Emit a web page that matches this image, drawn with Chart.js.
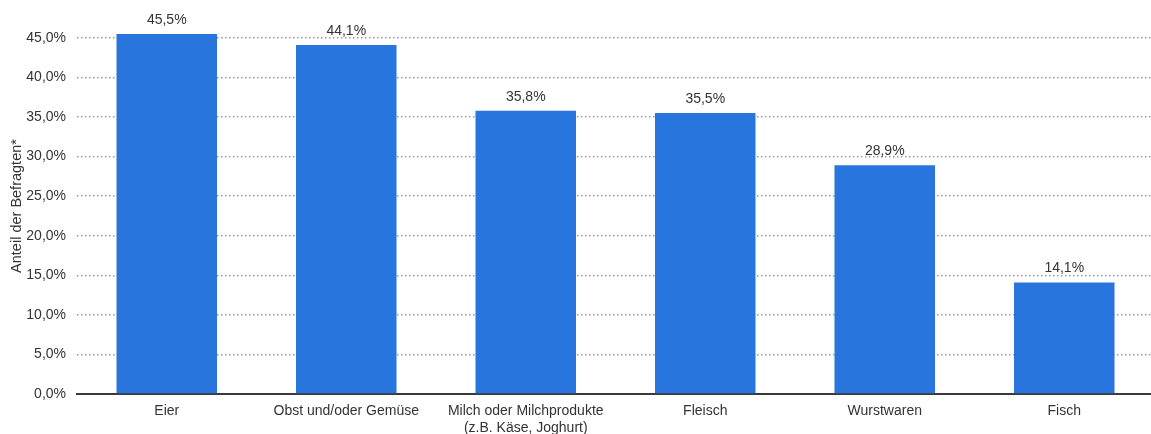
<!DOCTYPE html>
<html>
<head>
<meta charset="utf-8">
<script src="https://cdn.jsdelivr.net/npm/chart.js@4/dist/chart.umd.min.js"></script>
<style>
  html, body { margin: 0; padding: 0; background: #fff; overflow: hidden; }
  #wrap { width: 1156px; height: 434px; }
</style>
</head>
<body>
<div id="wrap"><canvas id="chart" width="1156" height="434"></canvas></div>
<script>
const categories = [
    'Eier',
    'Obst und/oder Gemüse',
    ['Milch oder Milchprodukte', '(z.B. Käse, Joghurt)'],
    'Fleisch',
    'Wurstwaren',
    'Fisch'
];
const shares = [45.5, 44.1, 35.8, 35.5, 28.9, 14.1];
const yTicks = [0, 5, 10, 15, 20, 25, 30, 35, 40, 45];
const yTitle = 'Anteil der Befragten*';

const FONT = '"Liberation Sans", Arial, Helvetica, sans-serif';
const fmt = v => v.toFixed(1).replace('.', ',') + '%';

// value above each bar
const valueLabels = {
    id: 'valueLabels',
    afterDatasetsDraw(chart){
        const ctx = chart.ctx;
        const meta = chart.getDatasetMeta(0);
        ctx.save();
        ctx.font = '14px ' + FONT;
        ctx.fillStyle = '#333';
        ctx.textAlign = 'center';
        ctx.textBaseline = 'bottom';
        meta.data.forEach((bar, i)=>{
            ctx.fillText(fmt(shares[i]), bar.x, bar.y - 7);
        });
        ctx.restore();
    }
};

// rotated axis title
const axisTitle = {
    id: 'axisTitle',
    afterDraw(chart){
        const ctx = chart.ctx;
        const a = chart.chartArea;
        ctx.save();
        ctx.translate(17, (a.top + a.bottom)/2 - 6);
        ctx.rotate(-Math.PI/2);
        ctx.font = '14.5px ' + FONT;
        ctx.fillStyle = '#333';
        ctx.textAlign = 'center';
        ctx.textBaseline = 'middle';
        ctx.fillText(yTitle, 0, 0);
        ctx.restore();
    }
};

new Chart(document.getElementById('chart').getContext('2d'), {
    type: 'bar',
    data: {
        labels: categories,
        datasets: [{
            data: shares,
            backgroundColor: '#2876dd',
            borderWidth: 0,
            barPercentage: 0.56,
            categoryPercentage: 1
        }]
    },
    options: {
        responsive: false,
        animation: false,
        layout: { padding: { top: 30, right: 2, left: 0, bottom: 0 } },
        plugins: { legend: { display: false }, tooltip: { enabled: false } },
        scales: {
            x: {
                grid: { display: false, drawTicks: false },
                border: { display: true, color: '#3a3a3a', width: 2 },
                ticks: { color: '#333', font: { family: FONT, size: 14 }, padding: 9, maxRotation: 0, autoSkip: false },
                afterFit(scale){ scale.height = 40; }
            },
            y: {
                min: 0,
                max: 46,
                afterBuildTicks(scale){ scale.ticks = yTicks.map(v=>({ value: v })); },
                afterFit(scale){ scale.width = 77; },
                border: { display: false, dash: [1.5, 2.5] },
                grid: {
                    color: '#9a9a9a',
                    lineWidth: 1.5,
                    drawTicks: false
                },
                ticks: {
                    color: '#333',
                    font: { family: FONT, size: 14 },
                    padding: 11,
                    callback: v => fmt(v)
                }
            }
        }
    },
    plugins: [valueLabels, axisTitle]
});
</script>
</body>
</html>
